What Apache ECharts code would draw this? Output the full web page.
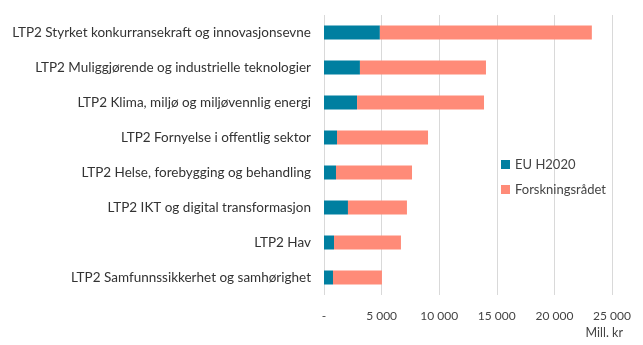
<!DOCTYPE html>
<html><head><meta charset="utf-8">
<script src="https://cdn.jsdelivr.net/npm/echarts@6/dist/echarts.min.js"></script>
<style>html,body{margin:0;padding:0;background:#fff}#c{width:643px;height:345px}</style>
</head><body><div id="c"></div>
<script>
const categories = [
  "LTP2 Styrket konkurransekraft og innovasjonsevne",
  "LTP2 Muliggjørende og industrielle teknologier",
  "LTP2 Klima, miljø og miljøvennlig energi",
  "LTP2 Fornyelse i offentlig sektor",
  "LTP2 Helse, forebygging og behandling",
  "LTP2 IKT og digital transformasjon",
  "LTP2 Hav",
  "LTP2 Samfunnssikkerhet og samhørighet"
];
const euH2020 = [4850, 3120, 2870, 1130, 1040, 2080, 870, 780];
const forskningsradet = [18400, 10940, 11020, 7900, 6600, 5120, 5810, 4250];
const xTicks = { min: 0, max: 25000, interval: 5000 };
const axisName = "Mill. kr";

const chart = echarts.init(document.getElementById('c'));
const font = 'Lato, "Open Sans", sans-serif';
chart.setOption({
  animation: false,
  textStyle: { fontFamily: font },
  grid: { left: 324, right: 31, top: 15, bottom: 50, containLabel: false },
  legend: {
    orient: 'vertical', left: 496, top: 153, itemWidth: 9, itemHeight: 9, itemGap: 12,
    icon: 'rect',
    textStyle: { fontFamily: font, fontSize: 13, color: '#444' },
    data: ['EU H2020', 'Forskningsrådet']
  },
  xAxis: {
    type: 'value', min: xTicks.min, max: xTicks.max, interval: xTicks.interval,
    axisLine: { show: false }, axisTick: { show: false },
    splitLine: { lineStyle: { color: '#d9d9d9', width: 1 } },
    axisLabel: {
      fontFamily: font, fontSize: 12, color: '#444', margin: 15,
      formatter: v => v === 0 ? '-' : String(v).replace(/\B(?=(\d{3})+(?!\d))/g, ' ')
    }
  },
  yAxis: {
    type: 'category', data: categories, inverse: true,
    axisLine: { show: false }, axisTick: { show: false },
    axisLabel: { fontFamily: font, fontSize: 13.5, color: '#333', margin: 13 }
  },
  graphic: [{
    type: 'text', right: 20, top: 326,
    style: { text: axisName, fontFamily: font, fontSize: 12.5, fill: '#444' }
  }],
  series: [
    { name: 'EU H2020', type: 'bar', stack: 't', data: euH2020, barWidth: 14,
      itemStyle: { color: '#007fa0' } },
    { name: 'Forskningsrådet', type: 'bar', stack: 't', data: forskningsradet, barWidth: 14,
      itemStyle: { color: '#ff8b78' } }
  ]
});
</script></body></html>
